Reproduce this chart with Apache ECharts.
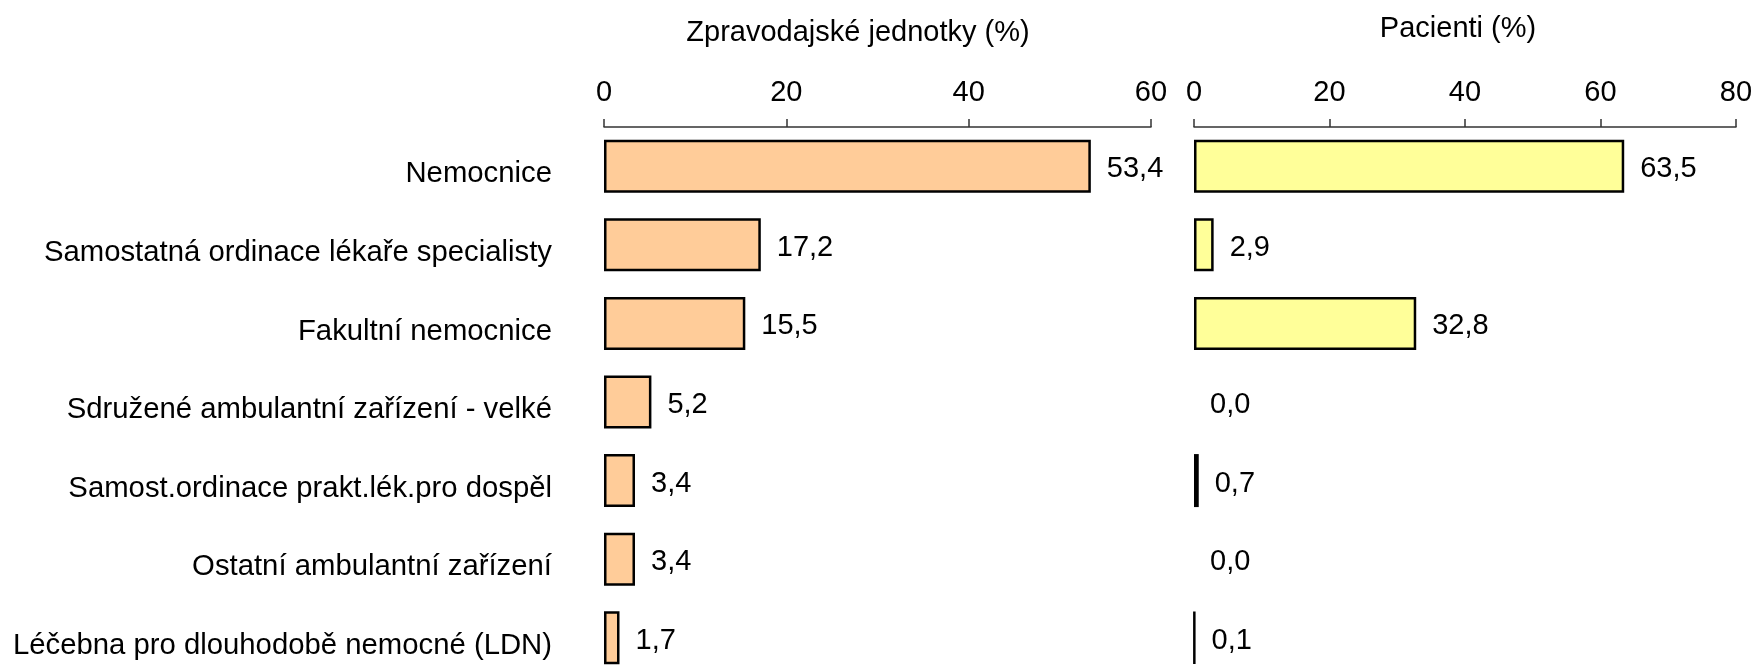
<!DOCTYPE html>
<html>
<head>
<meta charset="utf-8">
<script src="https://cdn.jsdelivr.net/npm/echarts@6/dist/echarts.min.js"></script>
<style>
html,body{margin:0;padding:0;background:#fff;}
#chart{width:1758px;height:667px;}
</style>
</head>
<body>
<div id="chart"></div>
<script>
const categories = [
  'Nemocnice',
  'Samostatná ordinace lékaře specialisty',
  'Fakultní nemocnice',
  'Sdružené ambulantní zařízení - velké',
  'Samost.ordinace prakt.lék.pro dospěl',
  'Ostatní ambulantní zařízení',
  'Léčebna pro dlouhodobě nemocné (LDN)'
];
const unitsPct = [53.4, 17.2, 15.5, 5.2, 3.4, 3.4, 1.7];
const patientsPct = [63.5, 2.9, 32.8, 0.0, 0.7, 0.0, 0.1];
const titleUnits = 'Zpravodajské jednotky (%)';
const titlePatients = 'Pacienti (%)';
const unitsAxis = {min: 0, max: 60, interval: 20};
const patientsAxis = {min: 0, max: 80, interval: 20};

const FONT = '"Liberation Sans", Arial, sans-serif';
const FS = 29;
const fmt = v => v.toFixed(1).replace('.', ',');

function barData(values) {
  return values.map(v => v === 0 ? {value: v, itemStyle: {borderWidth: 0}} : v);
}

const chart = echarts.init(document.getElementById('chart'), null, {renderer: 'canvas'});

const xAxisCommon = {
  type: 'value',
  position: 'top',
  splitLine: {show: false},
  axisLine: {show: true, lineStyle: {color: '#333', width: 1.5}},
  axisTick: {show: true, length: 8, lineStyle: {color: '#333', width: 1.5}},
  axisLabel: {color: '#000', fontSize: FS, fontFamily: FONT, margin: 20}
};

const barCommon = {
  type: 'bar',
  barWidth: 53,
  label: {
    show: true, position: 'right', distance: 16, offset: [0, 3],
    color: '#000', fontSize: FS, fontFamily: FONT,
    formatter: p => fmt(p.value)
  }
};

chart.setOption({
  animation: false,
  backgroundColor: '#fff',
  grid: [
    {left: 604, top: 127, width: 547, height: 550, outerBoundsMode: 'none', containLabel: false},
    {left: 1194, top: 127, width: 542, height: 550, outerBoundsMode: 'none', containLabel: false}
  ],
  xAxis: [
    Object.assign({gridIndex: 0}, xAxisCommon, unitsAxis),
    Object.assign({gridIndex: 1}, xAxisCommon, patientsAxis)
  ],
  yAxis: [
    {
      gridIndex: 0, type: 'category', data: categories, inverse: true,
      axisLine: {show: false}, axisTick: {show: false},
      axisLabel: {color: '#000', fontSize: 29.3, fontFamily: FONT, margin: 52, verticalAlign: 'top', lineHeight: 16}
    },
    {
      gridIndex: 1, type: 'category', data: categories, inverse: true,
      axisLine: {show: false}, axisTick: {show: false}, axisLabel: {show: false}
    }
  ],
  graphic: [
    {type: 'text', x: 858, y: 33, style: {text: titleUnits, fontSize: FS, fontFamily: FONT, fill: '#000', align: 'center', verticalAlign: 'middle'}},
    {type: 'text', x: 1458, y: 29, style: {text: titlePatients, fontSize: FS, fontFamily: FONT, fill: '#000', align: 'center', verticalAlign: 'middle'}}
  ],
  series: [
    Object.assign({}, barCommon, {
      xAxisIndex: 0, yAxisIndex: 0, data: barData(unitsPct),
      itemStyle: {color: '#FFCC99', borderColor: '#000', borderWidth: 2.5}
    }),
    Object.assign({}, barCommon, {
      xAxisIndex: 1, yAxisIndex: 1, data: barData(patientsPct),
      itemStyle: {color: '#FFFF99', borderColor: '#000', borderWidth: 2.5}
    })
  ]
});
</script>
</body>
</html>
